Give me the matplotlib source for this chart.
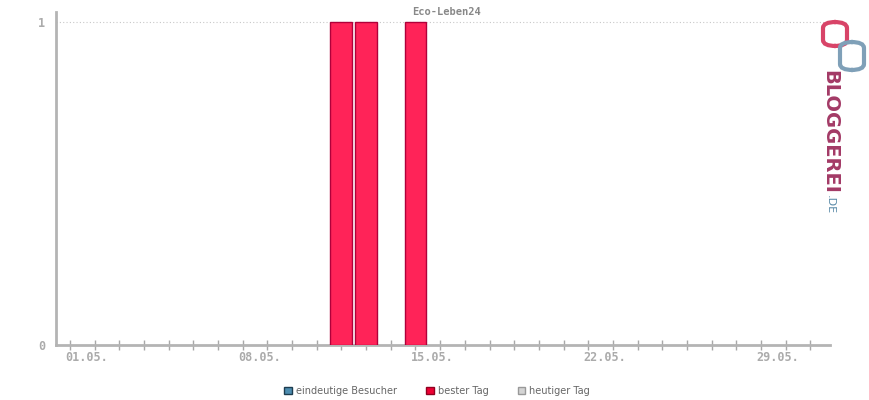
import numpy as np
import matplotlib.pyplot as plt
from matplotlib.patches import Patch, FancyBboxPatch

# Data (May, one bar per day)
days = ['01.05.', '02.05.', '03.05.', '04.05.', '05.05.', '06.05.', '07.05.',
        '08.05.', '09.05.', '10.05.', '11.05.', '12.05.', '13.05.', '14.05.',
        '15.05.', '16.05.', '17.05.', '18.05.', '19.05.', '20.05.', '21.05.',
        '22.05.', '23.05.', '24.05.', '25.05.', '26.05.', '27.05.', '28.05.',
        '29.05.', '30.05.', '31.05.']
best_day = [0, 0, 0, 0, 0, 0, 0, 0, 0, 0, 0, 1, 1, 0, 1, 0,
            0, 0, 0, 0, 0, 0, 0, 0, 0, 0, 0, 0, 0, 0, 0]
labelled_days = ['01.05.', '08.05.', '15.05.', '22.05.', '29.05.']
y_ticks = [0, 1]
title = 'Eco-Leben24'
legend_labels = ['eindeutige Besucher', 'bester Tag', 'heutiger Tag']

axis_col = '#b4b4b4'
text_col = '#ababab'

fig = plt.figure(figsize=(8.7, 4), dpi=100)
ax = fig.add_axes([56 / 870, 55 / 400, (830 - 56) / 870, (345 - 12) / 400])

x = np.arange(len(days))
ax.bar(x, best_day, width=0.89, color='#ff2358', edgecolor='#b0003a',
       linewidth=[1 if v else 0 for v in best_day], zorder=3)

ax.set_xlim(-0.57, 30.8)
ax.set_ylim(0, 1.031)
ax.set_xticks(x)
ax.set_xticklabels([])
# date labels sit slightly left of their tick, left aligned
for i, d in enumerate(days):
    if d in labelled_days:
        ax.annotate(d, (i, 0), xycoords=('data', 'axes fraction'), xytext=(-5, -6),
                    textcoords='offset pixels', ha='left', va='top',
                    family='DejaVu Sans Mono', fontweight='bold', fontsize=8.5, color=text_col)
ax.set_yticks(y_ticks)
ax.set_yticklabels([str(v) for v in y_ticks], family='DejaVu Sans Mono', fontweight='bold',
                   fontsize=8.5, color=text_col)
ax.tick_params(axis='x', direction='inout', length=7, width=1, color='#a8a8a8', pad=2)
ax.tick_params(axis='y', length=0, pad=8)

for s in ['top', 'right']:
    ax.spines[s].set_visible(False)
for s in ['left', 'bottom']:
    ax.spines[s].set_color(axis_col)
    ax.spines[s].set_linewidth(2)

ax.axhline(1, color='#c8c8c8', linestyle=(0, (1, 2)), linewidth=0.8, zorder=1)
ax.axhline(1, xmin=1, xmax=1.02, color='#c8c8c8', linestyle=(0, (1, 2)), linewidth=0.8, clip_on=False)

fig.text(447 / 870, 1 - 12 / 400, title, ha='center', va='center', family='DejaVu Sans Mono',
         fontweight='bold', fontsize=7.5, color='#888888')

# Legend
handles = [Patch(facecolor='#4d8db0', edgecolor='#1d3d50'),
           Patch(facecolor='#ee0033', edgecolor='#900020'),
           Patch(facecolor='#d4d4d4', edgecolor='#999999')]
fig.legend(handles, legend_labels, loc='center', bbox_to_anchor=(437 / 870, 1 - 391 / 400),
           ncol=3, frameon=False, fontsize=7, labelcolor='#666666', handlelength=0.8,
           handleheight=0.8, handletextpad=0.4, columnspacing=3.0)

# Logo
fig.patches.append(FancyBboxPatch((823 / 870, 1 - 46 / 400), 24 / 870, 24 / 400,
                                  boxstyle='round,pad=0,rounding_size=0.015',
                                  transform=fig.transFigure, facecolor='none',
                                  edgecolor='#d84468', linewidth=3))
fig.patches.append(FancyBboxPatch((840 / 870, 1 - 70 / 400), 24 / 870, 28 / 400,
                                  boxstyle='round,pad=0,rounding_size=0.015',
                                  transform=fig.transFigure, facecolor='none',
                                  edgecolor='#7fa0b8', linewidth=3))
fig.text(830 / 870, 1 - 70 / 400, 'BLOGGEREI', rotation=-90, ha='center', va='top',
         fontsize=14, fontweight='bold', color='#a33a66', family='DejaVu Sans')
fig.text(830 / 870, 1 - 195 / 400, '.DE', rotation=-90, ha='center', va='top',
         fontsize=8, color='#5a8aa8', family='DejaVu Sans')

plt.savefig('out.png', dpi=100)
